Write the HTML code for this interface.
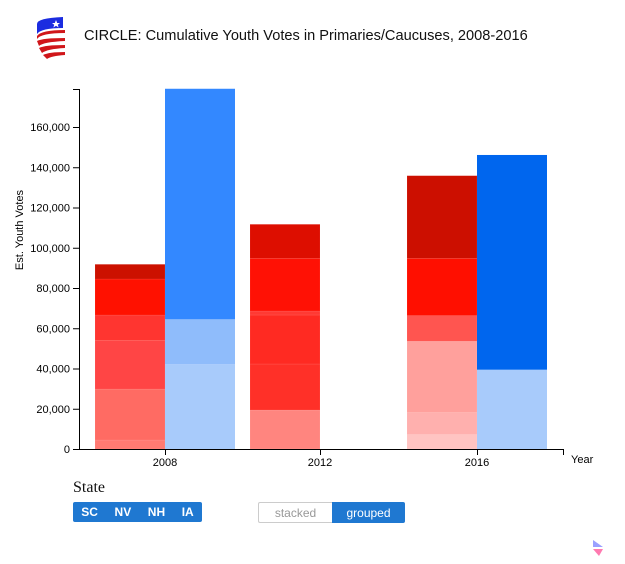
<!DOCTYPE html>
<html><head><meta charset="utf-8"><style>
body{margin:0;width:625px;height:564px;background:#fff;overflow:hidden;font-family:"Liberation Sans",sans-serif;position:relative}
.title{position:absolute;left:84px;top:28px;font-size:14.6px;color:#111}
.state{position:absolute;left:73px;top:479px;font-family:"Liberation Serif",serif;font-size:16px;color:#111}
.btns{position:absolute;left:73px;top:502px;width:129px;height:20px;background:#1f78d1;border-radius:2px;display:flex;justify-content:space-around;align-items:center;color:#fff;font-size:12px;font-weight:bold}
.tog{position:absolute;left:258px;top:502px;width:147px;height:21px;display:flex;font-size:12px}
.tog div{flex:1;display:flex;align-items:center;justify-content:center}
</style></head><body>
<svg style="position:absolute;left:33px;top:14px" width="36" height="48" viewBox="0 0 36 48">
<path d="M4 10 Q4 4 30 3 L30 14 Q8 14 4 20 Z" fill="#1b2ce0"/>
<polygon points="23,6 24.2,9 27,9 24.8,10.8 25.6,13.5 23,11.8 20.4,13.5 21.2,10.8 19,9 21.8,9" fill="#fff"/>
<path d="M4 22 Q8 16 32 16 L32 19 Q8 19 4 25 Z" fill="#d0161a"/>
<path d="M4 27 Q10 24 32 24 L32 27 Q10 28 6 32 Z" fill="#d0161a"/>
<path d="M6 34 Q12 31 32 31 L32 34 Q14 35 9 39 Z" fill="#d0161a"/>
<path d="M10 41 Q16 38 32 38 L32 41 Q18 42 14 45 Z" fill="#d0161a"/>
</svg>
<div class="title">CIRCLE: Cumulative Youth Votes in Primaries/Caucuses, 2008-2016</div>
<svg id="chart" style="position:absolute;left:0;top:0" width="625" height="475"></svg>
<div class="state">State</div>
<div class="btns">
<span>SC</span><span>NV</span><span>NH</span><span>IA</span></div>
<div class="tog">
<div style="border:1px solid #ccc;border-right:none;color:#999;border-radius:2px 0 0 2px">stacked</div>
<div style="background:#1f78d1;color:#fff;border-radius:0 2px 2px 0">grouped</div></div>
<svg style="position:absolute;left:591px;top:538px" width="16" height="20"><path d="M2 2 L12 9 L2 9 Z" fill="#9aa0ff"/><path d="M2 11 L12 11 L8 18 Z" fill="#ff7ab0"/></svg>
<script>
const years=["2008","2012","2016"];
const redSegs=[[4470,25330,24000,12780,17890,7300],[19380,22860,24340,1990,26180,16900],[7110,10930,35470,12730,28510,41050]];
const redColors=[["#ff7a72","#ff6b63","#ff4545","#ff3530","#ff1100","#cc1100"],["#ff857f","#ff3028","#ff2a22","#ff3a33","#ff1105","#dd0e00"],["#ffc4c2","#ffb0ae","#ffa09c","#ff5550","#ff0f00","#cc0f00"]];
const blueSegs=[[42090,22360,114550],[],[39400,106700]];
const blueColors=[["#a8cbfb","#8fbcfb","#3388ff"],[],["#a8cbfb","#0066ee"]];
const yTicks=[0,20000,40000,60000,80000,100000,120000,140000,160000];
const svg=document.getElementById('chart');const NS="http://www.w3.org/2000/svg";
function y(v){return 449-v*322/160000}
const xc={"2008":165,"2012":320,"2016":477};
function el(t,a){const e=document.createElementNS(NS,t);for(const k in a)e.setAttribute(k,a[k]);svg.appendChild(e);return e}
years.forEach((yr,i)=>{
 let acc=0;redSegs[i].forEach((v,j)=>{const r=el('rect',{x:xc[yr]-70,y:y(acc+v),width:70,height:y(acc)-y(acc+v),fill:redColors[i][j],stroke:"rgba(255,255,255,0.15)","stroke-width":0.5});
 
 acc+=v;});
 acc=0;blueSegs[i].forEach((v,j)=>{const r=el('rect',{x:xc[yr],y:y(acc+v),width:70,height:y(acc)-y(acc+v),fill:blueColors[i][j]});
 
 acc+=v;});
});
const ax=el('path',{d:"M73 89.5H79.5V449.5H563.5V455",fill:"none",stroke:"#000"});


yTicks.forEach(t=>{const l=el('line',{x1:73,x2:79,y1:y(t)+0.5,y2:y(t)+0.5,stroke:"#000"});


const tx=el('text',{x:70,y:y(t)+4,"text-anchor":"end","font-size":11,fill:"#000"});tx.textContent=t.toLocaleString('en-US');

});
years.forEach(yr=>{const l=el('line',{x1:xc[yr]+0.5,x2:xc[yr]+0.5,y1:449,y2:455,stroke:"#000"});


const tx=el('text',{x:xc[yr],y:466,"text-anchor":"middle","font-size":11});tx.textContent=yr;

});
const xt=el('text',{x:571,y:463,"font-size":11});xt.textContent="Year";


const yt=el('text',{x:0,y:0,"font-size":11,"text-anchor":"middle",transform:"translate(23,230) rotate(-90)"});yt.textContent="Est. Youth Votes";


</script>
</body></html>
